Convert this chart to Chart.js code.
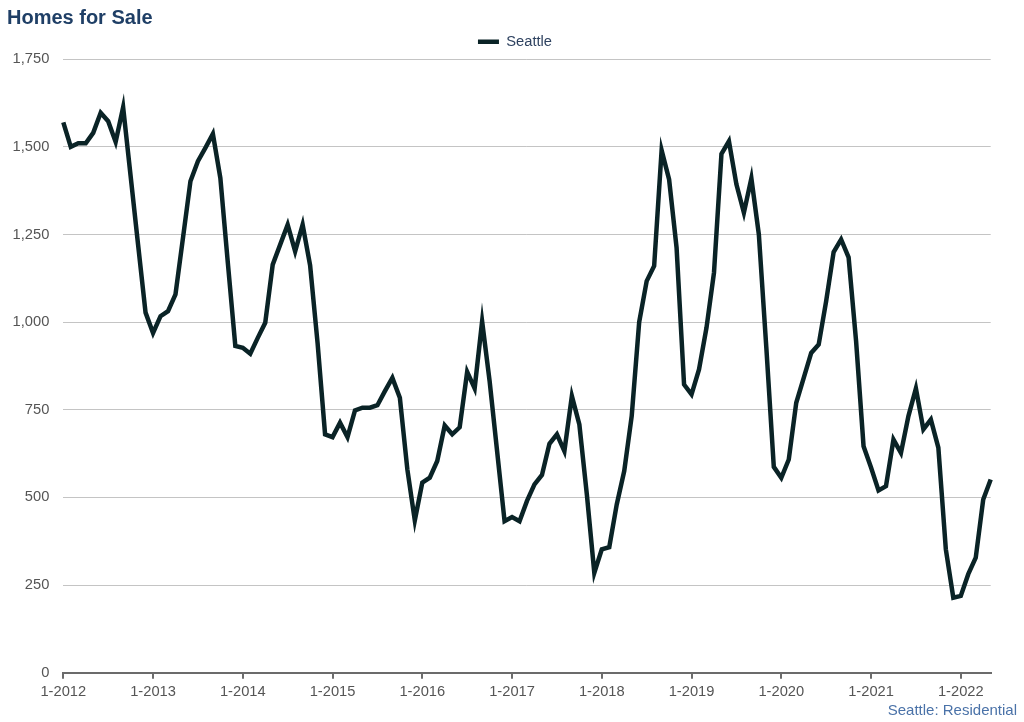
<!DOCTYPE html>
<html>
<head>
<meta charset="utf-8">
<title>Homes for Sale</title>
<script src="https://cdn.jsdelivr.net/npm/chart.js@4.4.0/dist/chart.umd.min.js"></script>
<style>
  html, body { margin: 0; padding: 0; background: #fff; }
  #wrap { position: relative; width: 1024px; height: 722px; }
  #title {
    position: absolute; left: 7px; top: 7px;
    font: bold 20px/20px "Liberation Sans", Arial, Helvetica, sans-serif;
    color: #1f3f66;
  }
  #source {
    position: absolute; right: 7px; top: 702px;
    font: 15px/15px "Liberation Sans", Arial, Helvetica, sans-serif;
    color: #4a72a8;
  }
</style>
</head>
<body>
<div id="wrap">
  <canvas id="myChart"></canvas>
  <div id="title">Homes for Sale</div>
  <div id="source">Seattle: Residential</div>
</div>
<script>
// monthly series, Jan 2012 - May 2022
var startYear = 2012;
var monthCount = 125;
var seriesName = "Seattle";

var seattle = [
  1570, 1500, 1510, 1510, 1540, 1597, 1573, 1514, 1613, 1417, 1221, 1027, // 2012
  969, 1017, 1031, 1079, 1240, 1402, 1459, 1497, 1537, 1411, 1169, 932,     // 2013
  927, 910, 955, 998, 1164, 1221, 1278, 1202, 1278, 1162, 940, 680,         // 2014
  672, 713, 672, 748, 756, 756, 763, 803, 841, 784, 580, 434,               // 2015
  542, 556, 604, 705, 680, 700, 858, 811, 1002, 832, 632, 432,              // 2016
  444, 432, 490, 537, 564, 653, 680, 632, 789, 708, 509, 285,               // 2017
  352, 358, 480, 575, 732, 1000, 1117, 1160, 1490, 1407, 1212, 822,         // 2018
  794, 865, 984, 1141, 1480, 1516, 1393, 1312, 1410, 1250, 927, 587,        // 2019
  556, 608, 770, 841, 912, 936, 1060, 1200, 1236, 1185, 946, 646,           // 2020
  585, 520, 532, 665, 627, 732, 811, 694, 722, 642, 352, 214,               // 2021
  219, 281, 328, 494, 551                                                   // 2022
];

var yTicks = [0, 250, 500, 750, 1000, 1250, 1500, 1750];

var labels = [];
for (var i = 0; i < monthCount; i++) {
  labels.push((i % 12 + 1) + "-" + (startYear + Math.floor(i / 12)));
}

var font = "'Liberation Sans', Arial, Helvetica, sans-serif";
var lineColor = "#0a2326";

var ctx = document.getElementById("myChart").getContext("2d");

var myChart = new Chart(ctx, {
  type: "line",
  data: {
    labels: labels,
    datasets: [
      {
        label: seriesName,
        data: seattle,
        borderColor: lineColor,
        backgroundColor: lineColor,
        borderWidth: 4.5,
        pointRadius: 0,
        tension: 0,
        fill: false,
      },
    ],
  },
  options: {
    responsive: true,
    maintainAspectRatio: false,
    animation: false,
    devicePixelRatio: 1,
    layout: {
      padding: { left: 10, right: 4, top: 24.5, bottom: 17.7 },
    },
    plugins: {
      title: { display: false },
      tooltip: { enabled: false },
      legend: {
        display: true,
        position: "top",
        labels: {
          usePointStyle: true,
          pointStyle: "line",
          pointStyleWidth: 21,
          padding: 10,
          color: "#2e4260",
          font: { family: font, size: 14.7 },
        },
      },
    },
    scales: {
      x: {
        type: "category",
        offset: false,
        grid: {
          drawOnChartArea: false,
          drawTicks: true,
          tickLength: 6,
          color: "#6b6b6b",
          lineWidth: 2,
        },
        border: { display: true, color: "#6b6b6b", width: 2 },
        ticks: {
          autoSkip: false,
          maxRotation: 0,
          padding: 4,
          color: "#555",
          font: { family: font, size: 14.7 },
          callback: function (value) {
            var lab = this.getLabelForValue(value);
            return lab.indexOf("1-") === 0 ? lab : null;
          },
        },
      },
      y: {
        min: yTicks[0],
        max: yTicks[yTicks.length - 1],
        afterBuildTicks: function (scale) {
          scale.ticks = yTicks.map(function (v) { return { value: v }; });
        },
        afterFit: function (scale) {
          scale.width = 53.3;
        },
        grid: { color: "#c4c4c4", lineWidth: 1, drawTicks: false },
        border: { display: false },
        ticks: {
          padding: 14,
          color: "#555",
          font: { family: font, size: 14.7 },
          callback: function (value) {
            return value.toLocaleString("en-US");
          },
        },
      },
      yRight: {
        position: "right",
        display: true,
        afterFit: function (scale) {
          scale.width = 29.3;
        },
        grid: { display: false },
        border: { display: false },
        ticks: { display: false },
      },
    },
  },
});
</script>
</body>
</html>
